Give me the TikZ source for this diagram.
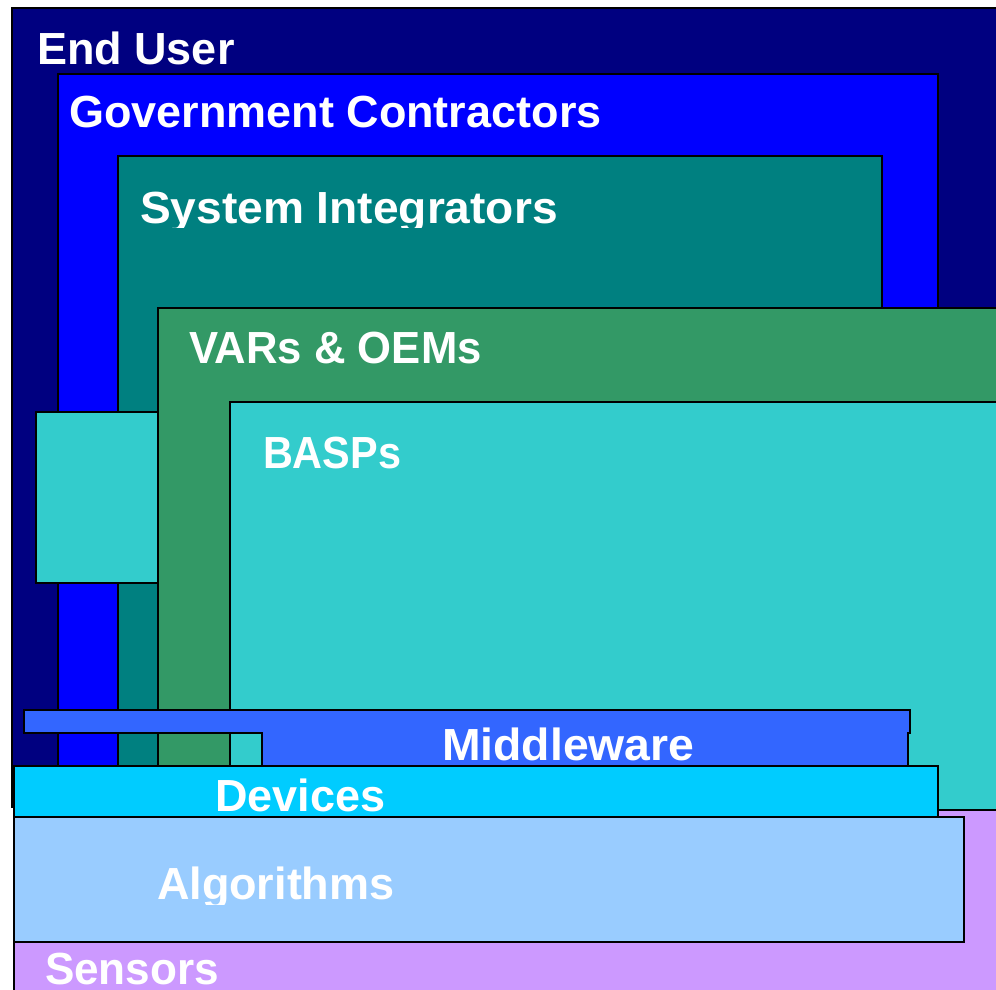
\documentclass[tikz,border=0pt]{standalone}
\usepackage{fontspec}
\setmainfont{Liberation Sans}
\usepackage{graphicx}
\definecolor{cEnd}{HTML}{000080}
\definecolor{cGov}{HTML}{0000FF}
\definecolor{cSys}{HTML}{008080}
\definecolor{cVar}{HTML}{339966}
\definecolor{cBasp}{HTML}{33CCCC}
\definecolor{cMid}{HTML}{3366FF}
\definecolor{cDev}{HTML}{00CCFF}
\definecolor{cAlg}{HTML}{99CCFF}
\definecolor{cSen}{HTML}{CC99FF}
\begin{document}
\begin{tikzpicture}[x=1pt,y=-1pt,
  box/.style={draw=black,line width=2.6pt},
  lbl/.style={anchor=base west,inner sep=0pt,outer sep=0pt,text=white,
    font=\bfseries\fontsize{45}{54}\selectfont}]
\useasboundingbox (0,0) rectangle (996,990);
\begin{scope}
\clip (0,0) rectangle (996,990);
\fill[white] (0,0) rectangle (996,990);
% nested boxes
\path[box,fill=cEnd] (12,8) rectangle (1012,807);
\path[box,fill=cGov] (58,74) rectangle (938,790);
\path[box,fill=cSys] (118,156) rectangle (882,790);
\path[box,fill=cVar] (158,308) rectangle (1012,790);
\path[box,fill=cBasp] (36,412) rectangle (158,583);
\path[box,fill=cBasp] (230,402) rectangle (1012,810);
% bottom layers
\path[box,fill=cSen] (14,810) rectangle (1012,1012);
\path[box,fill=cAlg] (14,817) rectangle (964,942);
\path[box,fill=cDev] (14,766) rectangle (938,817);
\path[box,fill=cMid] (24,710) -- (910,710) -- (910,733) -- (908,733)
  -- (908,766) -- (262,766) -- (262,733) -- (24,733) -- cycle;
% labels
\node[lbl] (tEnd) at (37,65) {End User};
\node[lbl] (tGov) at (69,127) {Government Contractors};
\begin{scope}
\clip (0,0) rectangle (996,227);
\node[lbl] (tSys) at (140,223) {\scalebox{1.025}[1]{System Integrators}};
\end{scope}
\node[lbl] (tVar) at (189,363) {\scalebox{0.97}[1]{VARs \& OEMs}};
\node[lbl] (tBasp) at (263,468) {\scalebox{0.92}[1]{BASPs}};
\node[lbl] (tMid) at (442,760) {\scalebox{1.03}[1]{Middleware}};
\node[lbl] (tDev) at (215,811) {Devices};
\begin{scope}
\clip (0,0) rectangle (996,904);
\node[lbl] (tAlg) at (157,899) {Algorithms};
\end{scope}
\node[lbl] (tSen) at (45,984) {\scalebox{0.98}[1]{Sensors}};
\end{scope}
\end{tikzpicture}
\end{document}
